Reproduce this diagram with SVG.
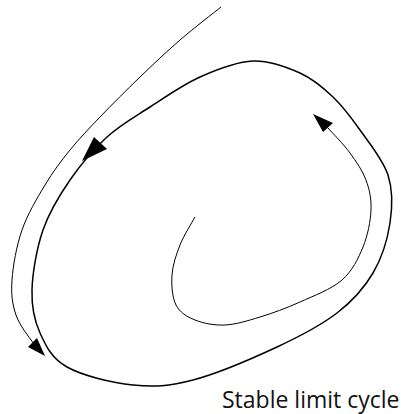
<svg xmlns="http://www.w3.org/2000/svg" width="403" height="414" viewBox="0 0 403 414">
<style>
.cycle{fill:none;stroke:#000;stroke-width:1.5}
.traj{fill:none;stroke:#000;stroke-width:1}
.head{fill:#000;stroke:none}
.label{font-family:"Open Sans","Liberation Sans",sans-serif;font-size:23px;fill:#111}
</style>
<rect width="403" height="414" fill="#fff"/>
<g id="connectors">
<path id="limit-cycle" class="cycle" d="M253,61 C236.3,61.7 217.2,69.3 200,77 C182.8,84.7 165.5,97 150,107 C134.5,117 120.3,124.8 107,137 C93.7,149.2 80.7,164.5 70,180 C59.3,195.5 49.3,211.7 43,230 C36.7,248.3 32.5,272.8 32,290 C31.5,307.2 34.2,320.2 40,333 C45.8,345.8 51.5,358.3 67,367 C82.5,375.7 112,382.8 133,385 C154,387.2 169,386.3 193,380 C217,373.7 253,358.2 277,347 C301,335.8 321,325.3 337,313 C353,300.7 364.2,288 373,273 C381.8,258 387.5,239.3 390,223 C392.5,206.7 393,190.5 388,175 C383,159.5 369.2,143 360,130 C350.8,117 343,106.5 333,97 C323,87.5 313.3,79 300,73 C286.7,67 269.7,60.3 253,61 Z"/>
<polygon class="head" points="82,161 94,137 107,149"/>
<path id="outer-trajectory" class="traj" d="M221,7 C214.2,12.5 193.5,28.3 180,40 C166.5,51.7 153.3,64.2 140,77 C126.7,89.8 111.7,104.8 100,117 C88.3,129.2 79.2,138.7 70,150 C60.8,161.3 53,171.7 45,185 C37,198.3 27.5,214.2 22,230 C16.5,245.8 13,265.8 12,280 C11,294.2 12.3,304.3 16,315 C19.7,325.7 29,337 34,344"/>
<polygon class="head" points="45,356 28,347 37,338"/>
<path id="inner-trajectory" class="traj" d="M195,217 C192.5,221.7 183.8,235.3 180,245 C176.2,254.7 172.7,265 172,275 C171.3,285 172.2,297.5 176,305 C179.8,312.5 186.8,316.7 195,320 C203.2,323.3 214.2,325.5 225,325 C235.8,324.5 247.5,320.8 260,317 C272.5,313.2 286.3,308.2 300,302 C313.7,295.8 331.5,289.2 342,280 C352.5,270.8 358.2,258.7 363,247 C367.8,235.3 370.5,221.2 371,210 C371.5,198.8 369.5,189.5 366,180 C362.5,170.5 356.3,161.7 350,153 C343.7,144.3 331.7,132.2 328,128"/>
<polygon class="head" points="313,114 333,123 323,132"/>
</g>
<g id="label">
<text class="label" x="222" y="408">Stable limit cycle</text>
</g>
</svg>
